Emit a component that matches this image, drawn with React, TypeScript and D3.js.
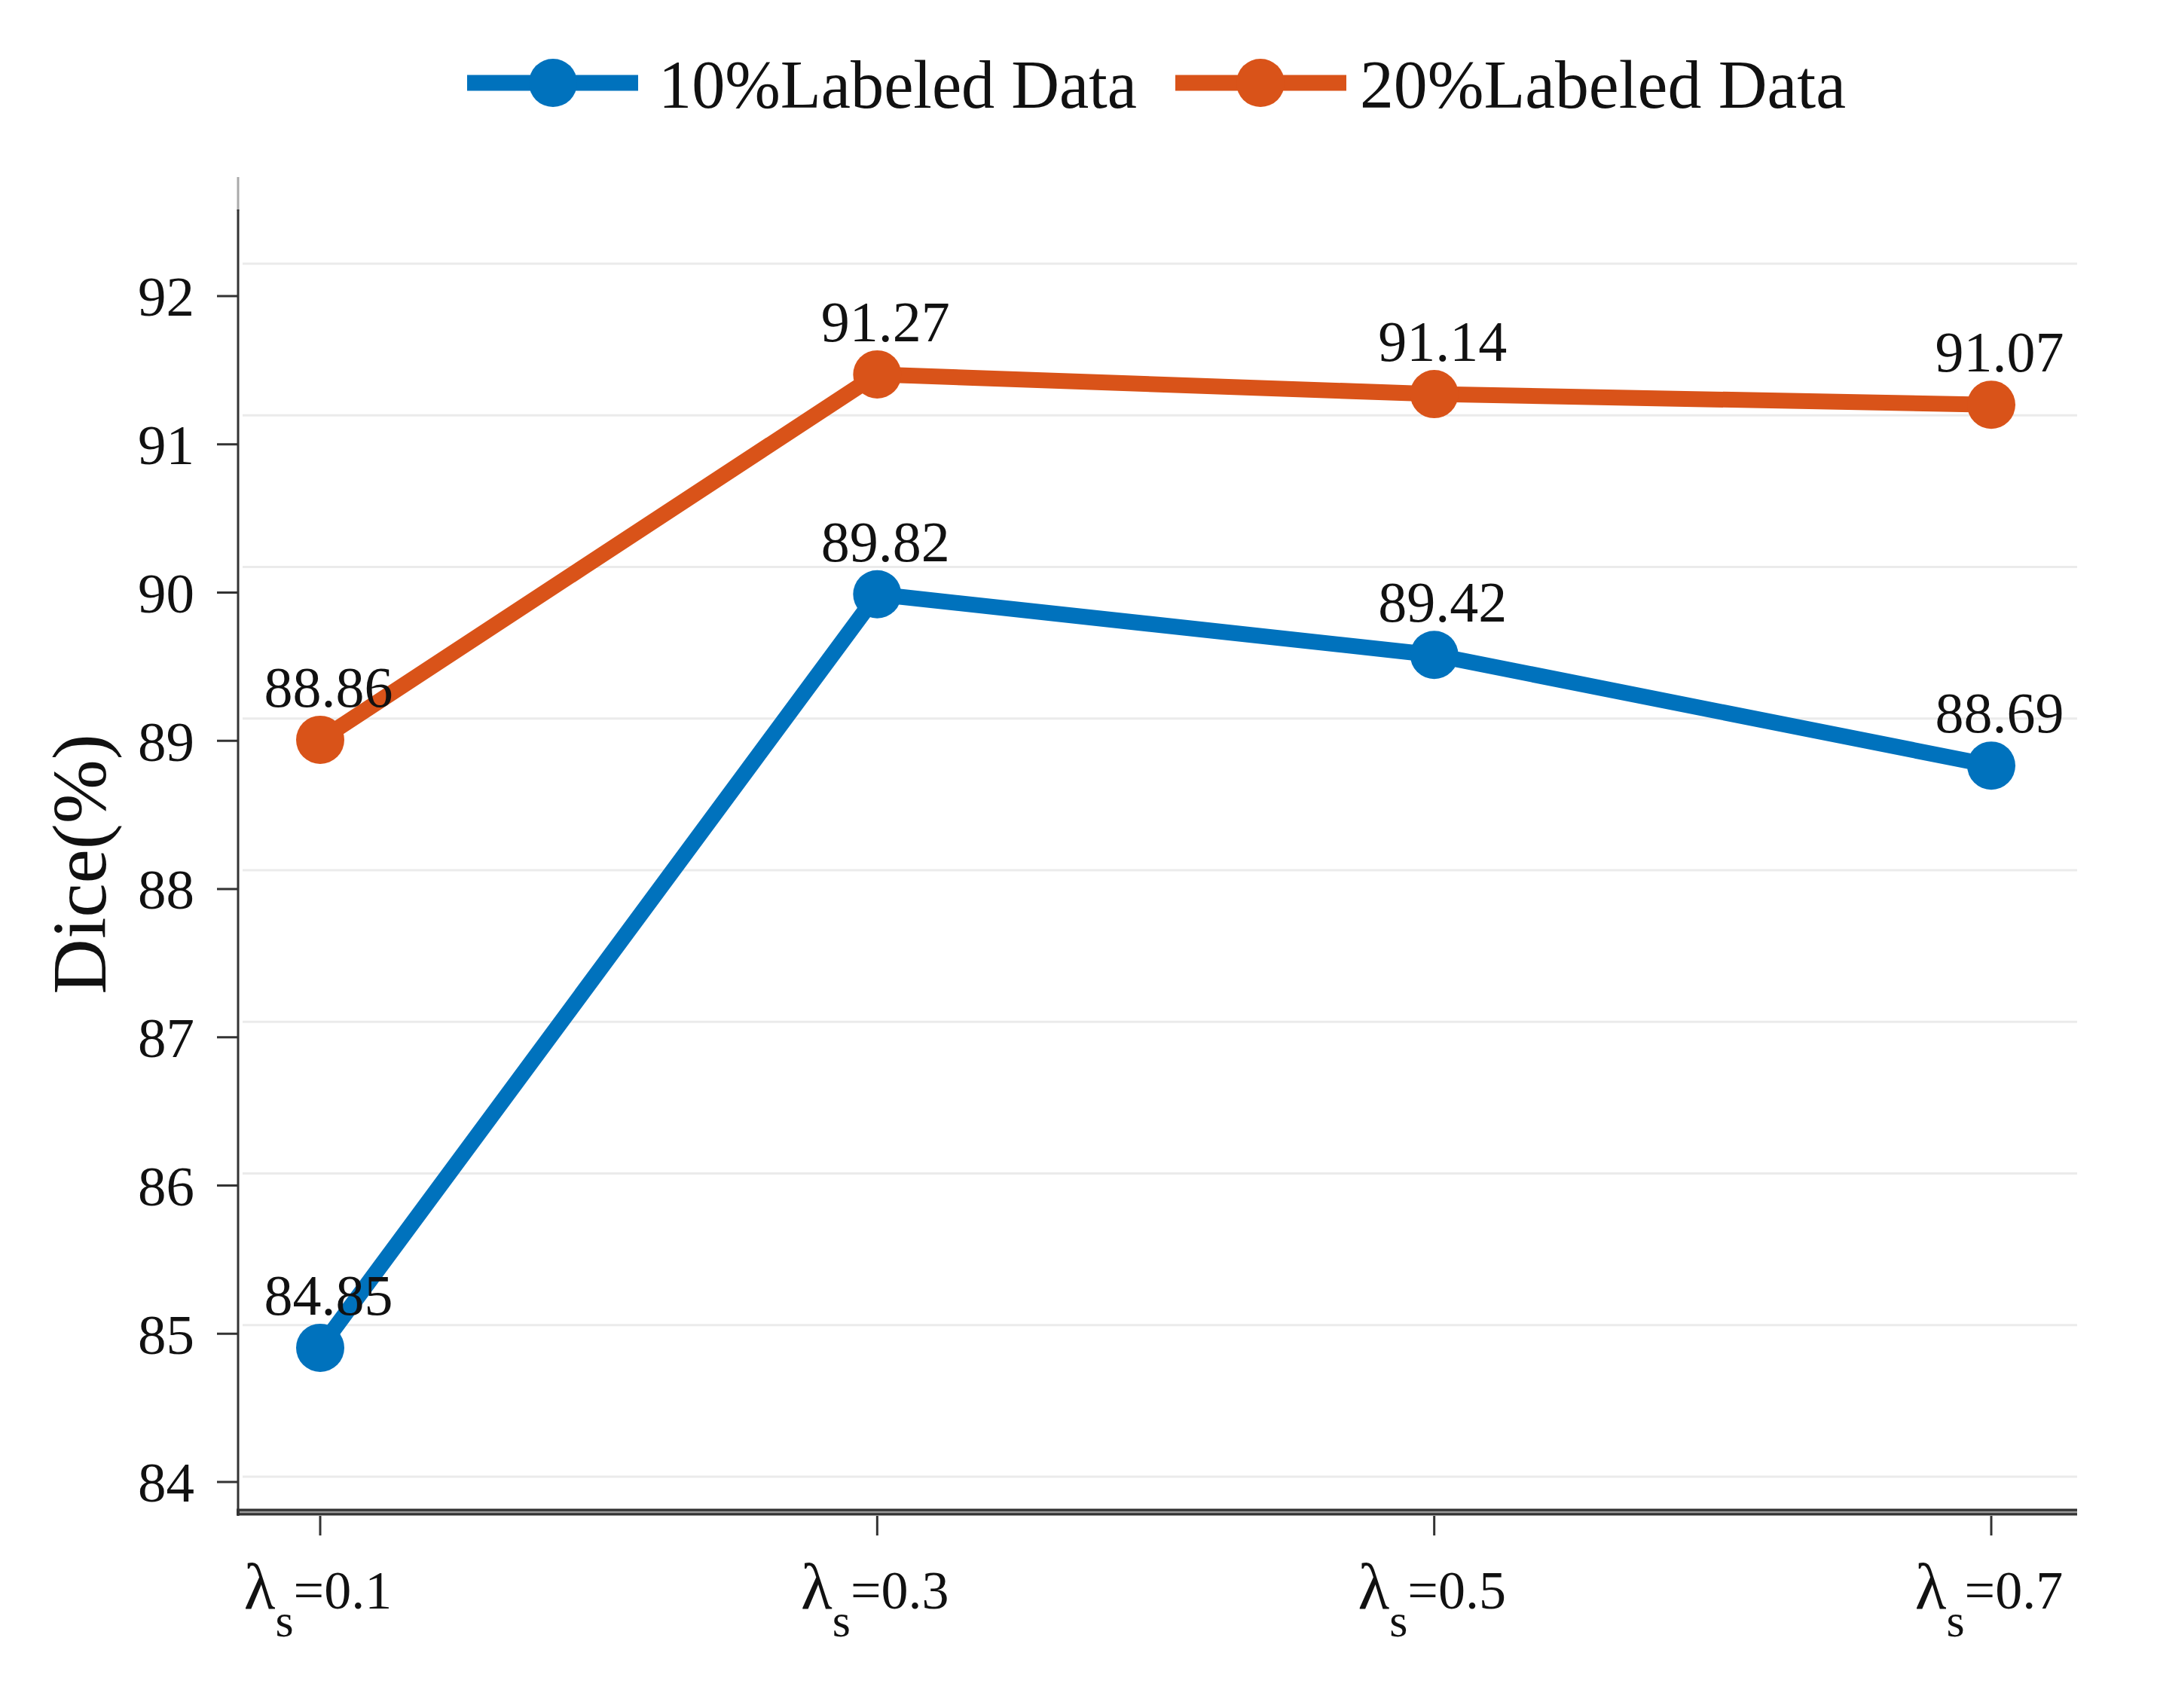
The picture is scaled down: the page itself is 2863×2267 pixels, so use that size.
import React from "react";
import * as d3 from "d3";

// Valores
const lambdas = [0.1, 0.3, 0.5, 0.7];
const dice10 = [84.85, 89.82, 89.42, 88.69];
const dice20 = [88.86, 91.27, 91.14, 91.07];
const yTicks = [84, 85, 86, 87, 88, 89, 90, 91, 92];
const seriesNames = ["10%Labeled Data", "20%Labeled Data"];
const seriesColors = ["#0072BD", "#D95319"];

const W = 2863;
const H = 2267;
const FONT = "'Liberation Serif', 'Times New Roman', serif";
const fmt = d3.format(".2f");

export default function App() {
  const x = d3.scalePoint<number>().domain(lambdas).range([425, 2643]);
  // the grid (and the data) sit on a slightly different scale than the tick labels
  const yGrid = d3.scaleLinear().domain([84, 92]).range([1960, 350]);
  const yTick = d3.scaleLinear().domain([84, 92]).range([1967, 393]);

  const axisX = 316;
  const axisY = 2007;
  const plotRight = 2757;

  const line = d3
    .line<number>()
    .x((_, i) => x(lambdas[i])!)
    .y((d) => yGrid(d));

  const series = [dice10, dice20];

  const legend = [
    { x0: 620, x1: 847, cx: 734, tx: 874, len: 635 },
    { x0: 1560, x1: 1787, cx: 1673, tx: 1805, len: 645 },
  ];

  return (
    <div style={{ position: "absolute", left: 0, top: 0, background: "#fff" }}>
      <svg width={W} height={H} style={{ display: "block", fontFamily: FONT }}>
        <rect width={W} height={H} fill="#fff" />

        {/* grid */}
        {yTicks.map((t) => (
          <line key={"g" + t} x1={axisX + 6} x2={plotRight} y1={yGrid(t)} y2={yGrid(t)} stroke="#ebebeb" strokeWidth={3} />
        ))}

        {/* y axis */}
        <line x1={axisX} x2={axisX} y1={235} y2={280} stroke="#aaa" strokeWidth={3} />
        <line x1={axisX} x2={axisX} y1={278} y2={axisY + 5} stroke="#333" strokeWidth={3} />
        {yTicks.map((t) => (
          <g key={"yt" + t}>
            <line x1={axisX - 28} x2={axisX} y1={yTick(t)} y2={yTick(t)} stroke="#333" strokeWidth={3} />
            <text x={axisX - 58} y={yTick(t)} dy="0.35em" textAnchor="end" fontSize={75} fill="#111">
              {t}
            </text>
          </g>
        ))}
        <text
          transform={`translate(140,1147) rotate(-90)`}
          textAnchor="middle"
          fontSize={102}
          fill="#111"
        >
          Dice(%)
        </text>

        {/* x axis */}
        <line x1={axisX - 2} x2={plotRight} y1={axisY} y2={axisY} stroke="#333" strokeWidth={9} />
        <line x1={axisX + 2} x2={plotRight} y1={axisY} y2={axisY} stroke="#9a9a9a" strokeWidth={2.5} />
        {lambdas.map((l) => (
          <g key={"xt" + l}>
            <line x1={x(l)} x2={x(l)} y1={axisY + 5} y2={axisY + 31} stroke="#333" strokeWidth={3} />
            <text x={x(l)! - 3} y={2135} textAnchor="middle" fontSize={72} fill="#111">
              <tspan fontSize={86}>λ</tspan>
              <tspan dy={37} fontSize={62}>s</tspan>
              <tspan dy={-37}>={l.toFixed(1)}</tspan>
            </text>
          </g>
        ))}

        {/* series */}
        {series.map((s, si) => (
          <g key={"s" + si}>
            <path d={line(s) ?? ""} fill="none" stroke={seriesColors[si]} strokeWidth={21} strokeLinejoin="round" />
            {s.map((v, i) => (
              <circle key={i} cx={x(lambdas[i])} cy={yGrid(v)} r={32} fill={seriesColors[si]} />
            ))}
            {s.map((v, i) => (
              <text key={"l" + i} x={x(lambdas[i])! + 11} y={yGrid(v) - 44} textAnchor="middle" fontSize={76} fill="#111">
                {fmt(v)}
              </text>
            ))}
          </g>
        ))}

        {/* legend */}
        {legend.map((lg, i) => (
          <g key={"lg" + i}>
            <line x1={lg.x0} x2={lg.x1} y1={110} y2={110} stroke={seriesColors[i]} strokeWidth={21} />
            <circle cx={lg.cx} cy={110} r={32} fill={seriesColors[i]} />
            <text x={lg.tx} y={143} fontSize={90} fill="#111" textLength={lg.len} lengthAdjust="spacingAndGlyphs">
              {seriesNames[i]}
            </text>
          </g>
        ))}
      </svg>
    </div>
  );
}
